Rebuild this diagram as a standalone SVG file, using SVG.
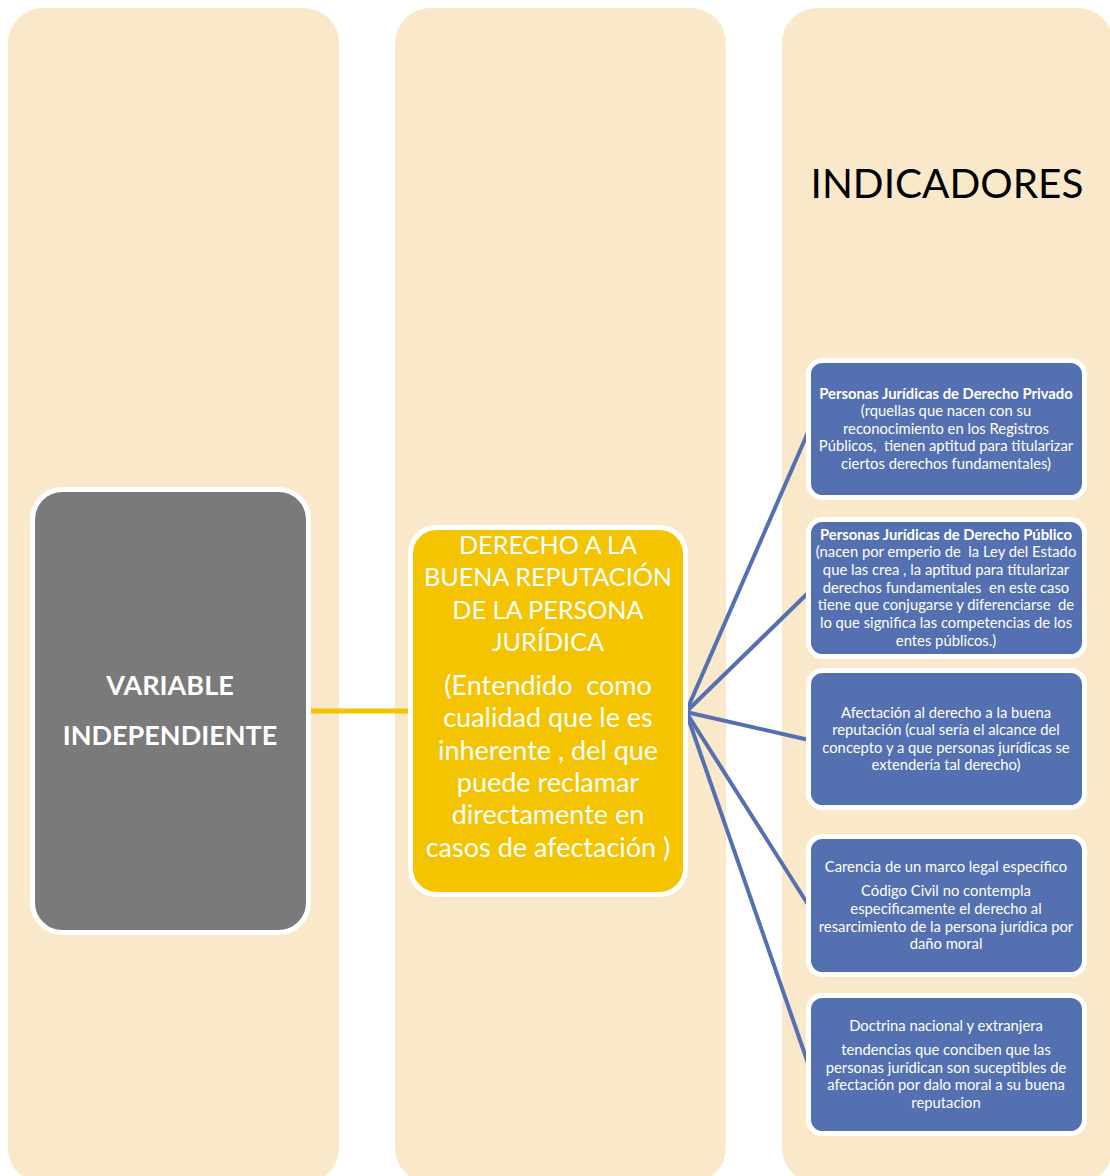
<svg xmlns="http://www.w3.org/2000/svg" width="1110" height="1176" viewBox="0 0 1110 1176">
<style>
.col{fill:#fae8ca}
.blue{fill:#5470b1;stroke:#ffffff;stroke-width:5}
.bt{font-family:Lato,"Liberation Sans",sans-serif;font-size:14.8px;fill:#ffffff;text-anchor:middle;white-space:pre}
.bb{font-weight:bold}
.yt{font-family:Lato,"Liberation Sans",sans-serif;font-size:27px;fill:#ffffff;text-anchor:middle;white-space:pre}
.yc{font-size:25.2px}
.gt{font-family:Lato,"Liberation Sans",sans-serif;font-size:27px;font-weight:bold;fill:#ffffff;text-anchor:middle}
.ln{stroke:#5470b1;stroke-width:4;fill:none}
</style>
<rect width="1110" height="1176" fill="#ffffff"/>
<g id="columns">
<rect class="col" x="8" y="8" width="331" height="1175" rx="35"/>
<rect class="col" x="395" y="8" width="331" height="1175" rx="35"/>
<rect class="col" x="782" y="8" width="331" height="1175" rx="35"/>
</g>
<g id="title">
<text x="947" y="198" font-family="Lato,'Liberation Sans',sans-serif" font-size="40.5" fill="#000000" text-anchor="middle">INDICADORES</text>
</g>
<g id="connectors">
<line x1="309" y1="711" x2="410" y2="711" stroke="#f5c400" stroke-width="5"/>
<line class="ln" x1="686" y1="712" x2="809" y2="430"/>
<line class="ln" x1="686" y1="712" x2="809" y2="592"/>
<line class="ln" x1="686" y1="712" x2="809" y2="740"/>
<line class="ln" x1="686" y1="712" x2="809" y2="906"/>
<line class="ln" x1="686" y1="712" x2="809" y2="1066"/>
</g>
<g id="variable">
<rect x="32.5" y="489.5" width="276" height="443" rx="30" fill="#7a7a7a" stroke="#ffffff" stroke-width="5"/>
<text class="gt" x="170" y="695">VARIABLE</text>
<text class="gt" x="170" y="745">INDEPENDIENTE</text>
</g>
<g id="derecho">
<rect x="410.5" y="527.5" width="275" height="367" rx="26" fill="#f5c400" stroke="#ffffff" stroke-width="5"/>
<text class="yt yc" x="548" y="554">DERECHO A LA</text>
<text class="yt yc" x="548" y="586">BUENA REPUTACIÓN</text>
<text class="yt yc" x="548" y="619">DE LA PERSONA</text>
<text class="yt yc" x="548" y="651">JURÍDICA</text>
<text class="yt" x="548" y="695">(Entendido  como</text>
<text class="yt" x="548" y="727">cualidad que le es</text>
<text class="yt" x="548" y="760">inherente , del que</text>
<text class="yt" x="548" y="792">puede reclamar</text>
<text class="yt" x="548" y="824">directamente en</text>
<text class="yt" x="548" y="857">casos de afectación )</text>
</g>
<g id="ind1">
<rect class="blue" x="808.5" y="360.5" width="276" height="137" rx="14"/>
<text class="bt bb" x="946" y="399">Personas Jurídicas de Derecho Privado</text>
<text class="bt" x="946" y="416">(rquellas que nacen con su</text>
<text class="bt" x="946" y="434">reconocimiento en los Registros</text>
<text class="bt" x="946" y="451">Públicos,  tienen aptitud para titularizar</text>
<text class="bt" x="946" y="469">ciertos derechos fundamentales)</text>
</g>
<g id="ind2">
<rect class="blue" x="808.5" y="519.5" width="276" height="137" rx="14"/>
<text class="bt bb" x="946" y="540">Personas Jurídicas de Derecho Público</text>
<text class="bt" x="946" y="557">(nacen por emperio de  la Ley del Estado</text>
<text class="bt" x="946" y="575">que las crea , la aptitud para titularizar</text>
<text class="bt" x="946" y="593">derechos fundamentales  en este caso</text>
<text class="bt" x="946" y="610">tiene que conjugarse y diferenciarse  de</text>
<text class="bt" x="946" y="628">lo que significa las competencias de los</text>
<text class="bt" x="946" y="646">entes públicos.)</text>
</g>
<g id="ind3">
<rect class="blue" x="808.5" y="670.5" width="276" height="137" rx="14"/>
<text class="bt" x="946" y="718">Afectación al derecho a la buena</text>
<text class="bt" x="946" y="735">reputación (cual sería el alcance del</text>
<text class="bt" x="946" y="753">concepto y a que personas jurídicas se</text>
<text class="bt" x="946" y="770">extendería tal derecho)</text>
</g>
<g id="ind4">
<rect class="blue" x="808.5" y="836.5" width="276" height="138" rx="14"/>
<text class="bt" x="946" y="872">Carencia de un marco legal específico</text>
<text class="bt" x="946" y="896">Código Civil no contempla</text>
<text class="bt" x="946" y="914">especificamente el derecho al</text>
<text class="bt" x="946" y="932">resarcimiento de la persona jurídica por</text>
<text class="bt" x="946" y="949">daño moral</text>
</g>
<g id="ind5">
<rect class="blue" x="808.5" y="995.5" width="276" height="138" rx="14"/>
<text class="bt" x="946" y="1031">Doctrina nacional y extranjera</text>
<text class="bt" x="946" y="1055">tendencias que conciben que las</text>
<text class="bt" x="946" y="1073">personas jurídican son suceptibles de</text>
<text class="bt" x="946" y="1090">afectación por dalo moral a su buena</text>
<text class="bt" x="946" y="1108">reputacion</text>
</g>
</svg>
